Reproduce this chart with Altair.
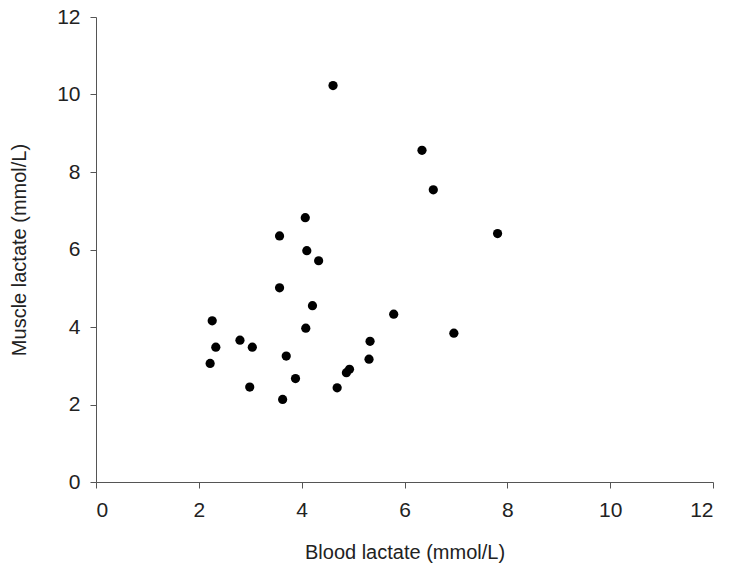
import altair as alt
import pandas as pd

# Blood vs muscle lactate (mmol/L), one point per subject
blood_lactate = [
    2.22, 2.26, 2.33, 2.80, 3.04, 2.99, 3.57, 3.57, 3.63, 3.70,
    3.88, 4.07, 4.10, 4.33, 4.21, 4.08, 4.61, 4.69, 4.87, 4.93,
    5.31, 5.33, 5.79, 6.34, 6.56, 6.96, 7.81,
]
muscle_lactate = [
    3.06, 4.16, 3.48, 3.66, 3.48, 2.45, 6.35, 5.01, 2.13, 3.25,
    2.67, 6.82, 5.97, 5.71, 4.55, 3.97, 10.23, 2.43, 2.82, 2.91,
    3.17, 3.63, 4.33, 8.56, 7.54, 3.84, 6.41,
]
axis_ticks = [0, 2, 4, 6, 8, 10, 12]

df = pd.DataFrame({"blood": blood_lactate, "muscle": muscle_lactate})

font = "Liberation Sans"
axis_style = dict(
    values=axis_ticks,
    grid=False,
    domainColor="#555555",
    tickColor="#555555",
    tickSize=6,
    labelFont=font,
    labelFontSize=21,
    labelColor="#222222",
    titleFont=font,
    titleFontSize=20,
    titleFontWeight="normal",
    titleColor="#222222",
)

chart = (
    alt.Chart(df)
    .mark_circle(size=85, color="black", opacity=1)
    .encode(
        x=alt.X(
            "blood:Q",
            scale=alt.Scale(domain=[0, 12], nice=False),
            axis=alt.Axis(title="Blood lactate (mmol/L)", labelPadding=11,
                          titlePadding=22, **axis_style),
        ),
        y=alt.Y(
            "muscle:Q",
            scale=alt.Scale(domain=[0, 12], nice=False),
            axis=alt.Axis(title="Muscle lactate (mmol/L)", labelPadding=10,
                          titlePadding=27, **axis_style),
        ),
    )
    .properties(
        width=617,
        height=465,
        autosize=alt.AutoSizeParams(type="none"),
        padding={"left": 96, "top": 17, "right": 18, "bottom": 90},
        background="white",
    )
    .configure_view(stroke=None)
)

chart.save("out.html", embed_options={"renderer": "svg", "actions": False})
